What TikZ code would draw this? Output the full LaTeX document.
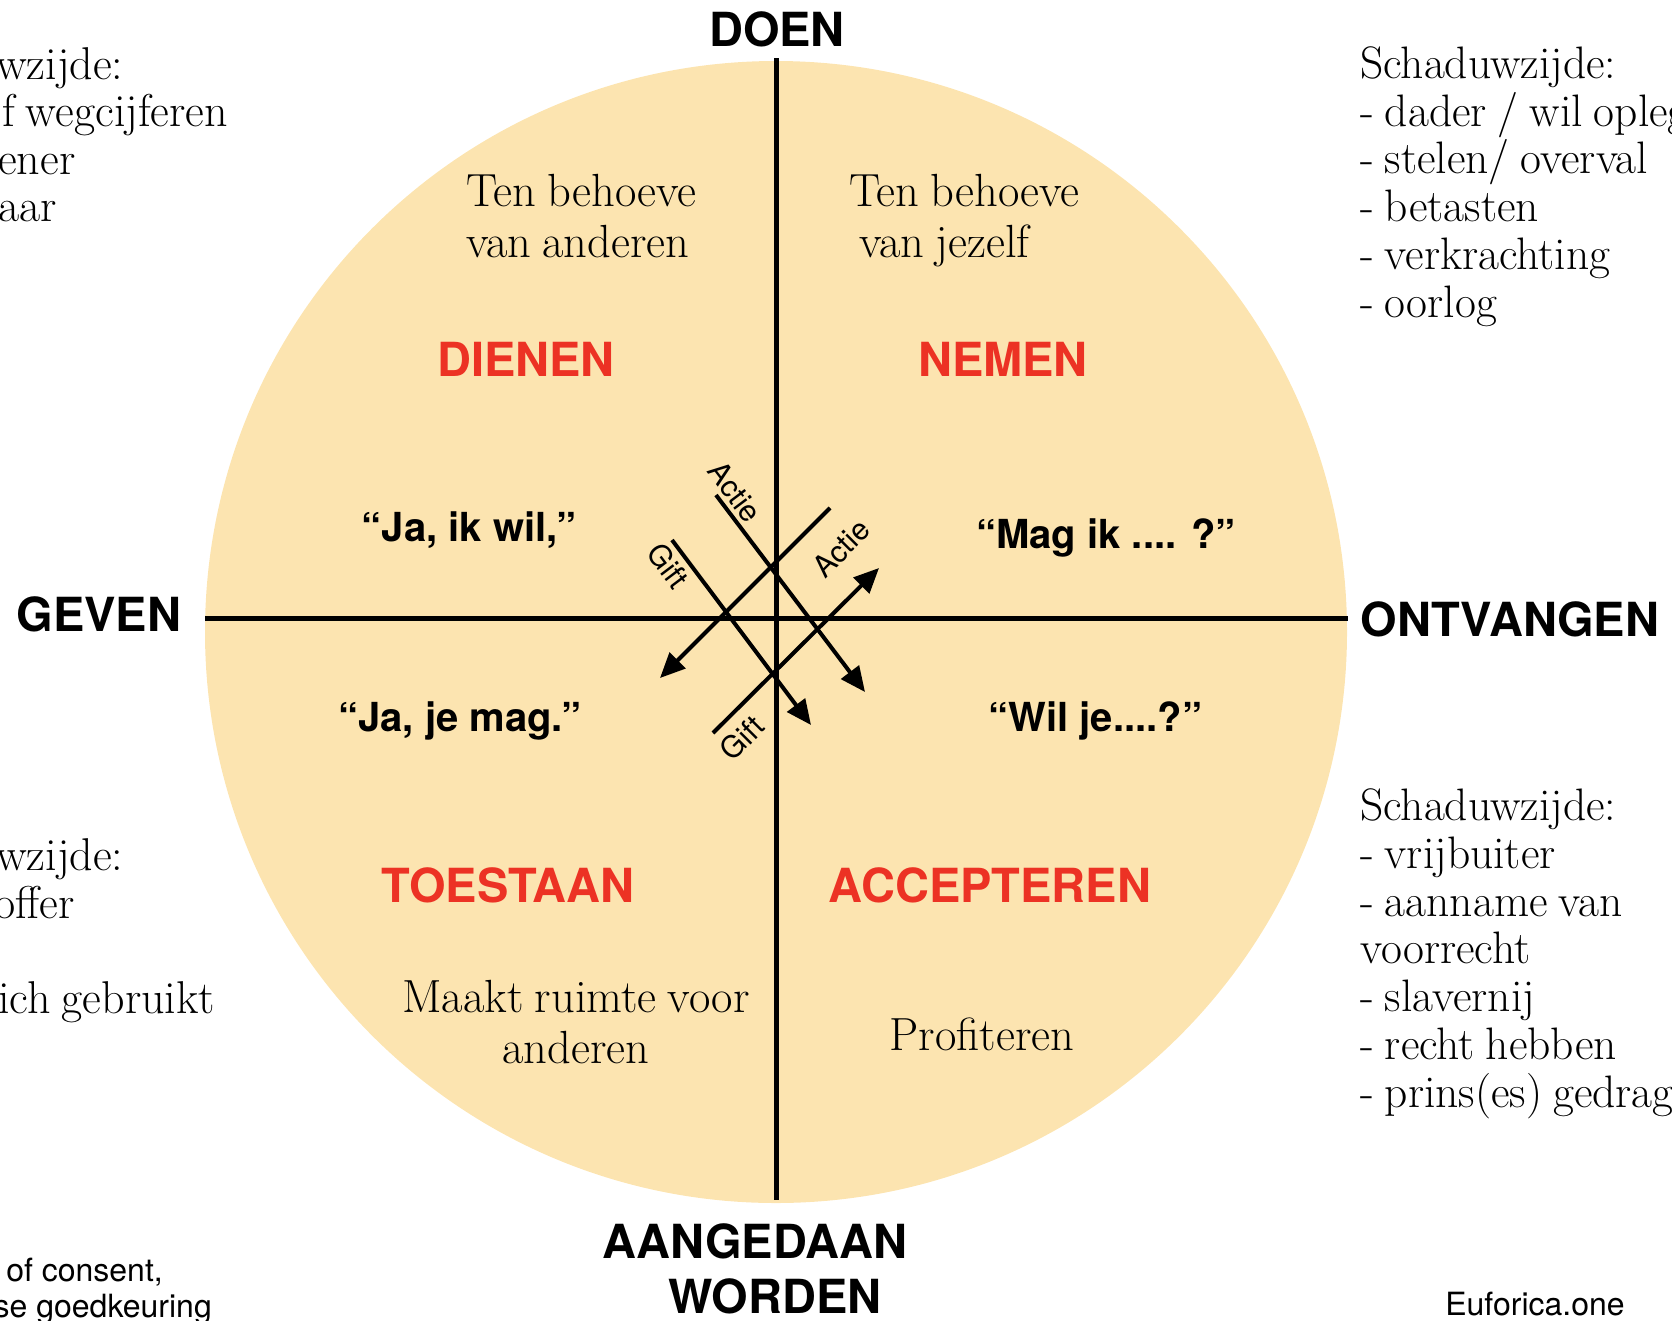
\documentclass[tikz,border=0pt]{standalone}
\usepackage{fontspec}
\setmainfont{Latin Modern Roman}[WordSpace=0.8]
\setsansfont{TeX Gyre Heros}
\usetikzlibrary{arrows.meta, positioning}
\definecolor{wheelfill}{RGB}{252,228,176}
\definecolor{quadred}{RGB}{236,50,36}

\begin{document}
\begin{tikzpicture}[
    x=1pt, y=-1pt,
    >={Triangle[length=25pt, width=22pt]},
    axisline/.style={line width=5pt, black},
    flowarrow/.style={line width=4pt, black},
    axislabel/.style={font=\fontsize{47}{54}\selectfont\sffamily\bfseries,
        inner sep=0pt, anchor=base},
    quadrant/.style={font=\fontsize{47}{54}\selectfont\sffamily\bfseries,
        text=quadred, inner sep=0pt, anchor=base},
    speech/.style={font=\fontsize{40}{46}\selectfont\sffamily\bfseries,
        inner sep=0pt, anchor=base},
    serifnote/.style={font=\fontsize{46.5}{51}\selectfont, inner sep=0pt},
    shadowlist/.style={font=\fontsize{45.5}{47.7}\selectfont, align=left,
        inner sep=0pt, anchor=base west},
    fragment/.style={font=\fontsize{46}{48}\selectfont, inner sep=0pt,
        anchor=base west},
    arrowlabel/.style={font=\fontsize{30}{34}\selectfont\sffamily, inner sep=0pt},
    credit/.style={font=\fontsize{32}{37}\selectfont\sffamily, inner sep=0pt},
]

\useasboundingbox (0,0) rectangle (1672,1320);
\clip (0,0) rectangle (1672,1320);

% === WHEEL ===
\coordinate (hub) at (776,632);
\fill[wheelfill] (hub) circle[radius=571];

% Axes
\coordinate (axtop) at (776,58);
\coordinate (axbottom) at (776,1200);
\coordinate (axleft) at (205,618);
\coordinate (axright) at (1348,618);
\draw[axisline] (axtop) -- (axbottom);
\draw[axisline] (axleft) -- (axright);

% === AXIS LABELS ===
\node[axislabel] (doen) at (777,46) {DOEN};
\node[axislabel] (geven) at (99,631) {GEVEN};
\node[axislabel] (ontvangen) at (1510,636) {ONTVANGEN};
\node[axislabel] (aangedaan) at (755,1258) {AANGEDAAN};
\node[axislabel] (worden) at (775,1313) {WORDEN};

% === QUADRANTS ===
\node[quadrant] (dienen) at (526,376) {DIENEN};
\node[quadrant] (nemen) at (1003,376) {NEMEN};
\node[quadrant] (toestaan) at (508,902) {TOESTAAN};
\node[quadrant] (accepteren) at (990,902) {ACCEPTEREN};

% Quotes
\node[speech] (jawil) at (469,541) {“Ja, ik wil,”};
\node[speech] (magik) at (1106,548) {“Mag ik .... ?”};
\node[speech] (jamag) at (460,731) {“Ja, je mag.”};
\node[speech] (wilje) at (1095,731) {“Wil je....?”};

% Descriptions (base = last line)
\node[serifnote, align=left, anchor=base west] (anderen) at (466,257)
    {Ten behoeve\\van anderen};
\node[serifnote, align=left, anchor=base west] (jezelf) at (849,257)
    {Ten behoeve\\\hspace*{10pt}van jezelf};
\node[serifnote, align=center, anchor=base] (ruimte) at (576,1063)
    {Maakt ruimte voor\\anderen};
\node[serifnote, anchor=base] (profiteren) at (982,1050) {Profiteren};

% === GIFT / ACTIE ARROWS ===
\coordinate (actieAs) at (716,495);
\coordinate (actieAe) at (865,692);
\coordinate (giftAs) at (672,540);
\coordinate (giftAe) at (811,725);
\coordinate (downs) at (830,508);
\coordinate (downe) at (660,678);
\coordinate (ups) at (713,733);
\coordinate (upe) at (879,568);

\draw[flowarrow, ->] (actieAs) -- (actieAe);
\draw[flowarrow, ->] (giftAs) -- (giftAe);
\draw[flowarrow, ->] (downs) -- (downe);
\draw[flowarrow, ->] (ups) -- (upe);

\node[arrowlabel, rotate=-53] (actietop) at (735,492) {Actie};
\node[arrowlabel, rotate=-53] (giftleft) at (668,566) {Gift};
\node[arrowlabel, rotate=45] (actieright) at (841,548) {Actie};
\node[arrowlabel, rotate=45] (giftbottom) at (742,738) {Gift};

% === SHADOW SIDES ===
\node[shadowlist] (shadowtop) at (1360,317)
    {Schaduwzijde:\\- dader / wil opleggen\\- stelen/ overval\\- betasten\\- verkrachting\\- oorlog};
\node[shadowlist] (shadowbottom) at (1360,1107)
    {Schaduwzijde:\\- vrijbuiter\\- aanname van\\voorrecht\\- slavernij\\- recht hebben\\- prins(es) gedrag};

% Cut-off texts on the left
\node[fragment] (lefttop1) at (-4,79) {wzijde:};
\node[fragment] (lefttop2) at (2,126) {f wegcijferen};
\node[fragment] (lefttop3) at (-2,174) {ener};
\node[fragment] (lefttop4) at (-2,221) {aar};
\node[fragment] (leftbot1) at (-4,870) {wzijde:};
\node[fragment] (leftbot2) at (-6,918) {offer};
\node[fragment] (leftbot3) at (-2,1013) {ich gebruikt};

\node[credit, anchor=base east] (consent1) at (163,1281) {of consent,};
\node[credit, anchor=base east] (consent2) at (212,1317) {se goedkeuring};

% Credit
\node[credit, anchor=base] (euforica) at (1535,1315) {Euforica.one};

\end{tikzpicture}
\end{document}
